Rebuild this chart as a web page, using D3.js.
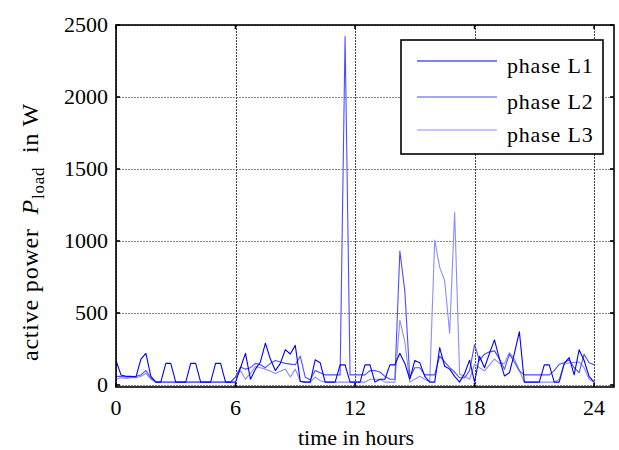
<!DOCTYPE html>
<html><head><meta charset="utf-8">
<script src="https://cdn.jsdelivr.net/npm/d3@7"></script>
<style>
body{margin:0;background:#fff}
svg text{font-family:"Liberation Serif","Times New Roman","DejaVu Serif",serif;fill:#000}
</style>
</head><body><svg id="c" width="619" height="450"></svg>
<script>
const hours = [0,0.25,0.5,0.75,1,1.25,1.5,1.75,2,2.25,2.5,2.75,3,3.25,3.5,3.75,4,4.25,4.5,4.75,5,5.25,5.5,5.75,
6,6.25,6.5,6.75,7,7.25,7.5,7.75,8,8.25,8.5,8.75,9,9.25,9.5,9.75,10,10.25,10.5,10.75,11,11.25,11.5,11.75,
12,12.25,12.5,12.75,13,13.25,13.5,13.75,14,14.25,14.5,14.75,15,15.25,15.5,15.75,16,16.25,16.5,16.75,17,17.25,17.5,17.75,
18,18.25,18.5,18.75,19,19.25,19.5,19.75,20,20.25,20.5,20.75,21,21.25,21.5,21.75,22,22.25,22.5,22.75,23,23.25,23.5,23.75,24];

const phaseL1 = [170,70,60,60, 55,180,220,60, 20,20,150,150, 20,20,20,150, 150,20,20,20, 150,150,20,20,
20,120,220,40, 110,160,290,180, 100,150,245,215, 275,25,20,20, 175,155,20,20, 20,140,140,20,
20,20,140,140, 20,40,40,140, 140,220,150,40, 170,155,60,20, 20,260,130,110, 60,20,80,172,
20,200,120,220, 313,180,63,85, 220,370,20,20, 20,20,140,140, 20,20,150,190, 70,245,170,60, 20];

const phaseL2 = [60,60,55,55, 60,70,100,50, 20,20,20,20, 20,20,20,20, 20,20,20,20, 20,20,20,20,
55,125,110,120, 150,140,120,150, 170,160,150,145, 140,200,55,35, 100,85,70,70, 70,70,2420,70,
70,70,70,100, 100,90,60,40, 40,930,650,50, 120,120,70,70, 70,200,160,120, 90,50,50,100,
280,170,214,230, 237,180,110,214, 160,98,70,70, 70,70,70,70, 100,144,155,175, 120,86,214,155, 140];

const phaseL3 = [40,50,45,50, 50,60,80,40, 20,20,20,20, 20,20,20,20, 20,20,20,20, 20,20,20,20,
55,100,40,80, 130,120,110,95, 80,95,110,55, 110,25,20,20, 55,30,20,20, 20,20,20,20,
20,20,20,40, 40,40,20,20, 20,450,300,20, 40,60,40,25, 1007,817,724,360, 1200,75,60,40,
144,120,98,140, 180,150,150,225, 180,100,20,20, 20,20,20,20, 20,40,144,155, 155,160,120,40, 20];

const seriesNames = ["phase L1","phase L2","phase L3"];
const xTicks = [0,6,12,18,24];
const yTicks = [0,500,1000,1500,2000,2500];

const colors = ["#0000ff","#4d4dff","#8c8cff"];
const series = [phaseL1, phaseL2, phaseL3];

const L=116, R=614, T=25, B=387;
const svg = d3.select("#c");
const x = d3.scaleLinear().domain([0,25]).range([L,R]);
const y = d3.scaleLinear().domain([-14,2500]).range([B,T]);

// grid
svg.append("g").selectAll("line").data(yTicks).join("line")
  .attr("x1",L).attr("x2",R).attr("y1",d=>Math.round(y(d))+0.5).attr("y2",d=>Math.round(y(d))+0.5)
  .attr("stroke","#8a8a8a").attr("stroke-width",1).attr("stroke-dasharray","2,1");
svg.append("g").selectAll("line").data(xTicks).join("line")
  .attr("x1",d=>Math.round(x(d))+0.5).attr("x2",d=>Math.round(x(d))+0.5).attr("y1",T).attr("y2",B)
  .attr("stroke","#444").attr("stroke-width",1).attr("stroke-dasharray","2,1");

// clip
svg.append("clipPath").attr("id","clip").append("rect").attr("x",L).attr("y",T).attr("width",R-L).attr("height",B-T);

const line = d3.line().x((d,i)=>x(hours[i])).y(d=>y(d));
const order = [2,1,0];
const gl = svg.append("g").attr("clip-path","url(#clip)");
order.forEach(k=>{
  gl.append("path").datum(series[k]).attr("d",line)
    .attr("fill","none").attr("stroke",colors[k]).attr("stroke-width",1.1).attr("stroke-linejoin","round");
});

// axes box
svg.append("rect").attr("x",L).attr("y",T).attr("width",R-L).attr("height",B-T)
  .attr("fill","none").attr("stroke","#000").attr("stroke-width",1.6);

// ticks (inside, mirrored)
const tl=4;
const tg = svg.append("g").attr("stroke","#000").attr("stroke-width",1.6);
xTicks.forEach(t=>{
  const xx = x(t);
  tg.append("line").attr("x1",xx).attr("x2",xx).attr("y1",B).attr("y2",B-tl);
  tg.append("line").attr("x1",xx).attr("x2",xx).attr("y1",T).attr("y2",T+tl);
});
yTicks.forEach(t=>{
  const yy = y(t);
  tg.append("line").attr("x1",L).attr("x2",L+tl).attr("y1",yy).attr("y2",yy);
  tg.append("line").attr("x1",R).attr("x2",R-tl).attr("y1",yy).attr("y2",yy);
});

// tick labels
svg.append("g").selectAll("text").data(xTicks).join("text")
  .attr("x",d=>x(d)).attr("y",415).attr("text-anchor","middle").attr("font-size",22).text(d=>d);
svg.append("g").selectAll("text").data(yTicks).join("text")
  .attr("x",108).attr("y",d=>y(d)+7).attr("text-anchor","end").attr("font-size",22).text(d=>d);

// x label
svg.append("text").attr("x",356).attr("y",445).attr("text-anchor","middle").attr("font-size",22).text("time in hours");

// y label
const yl = svg.append("text").attr("transform","translate(38,232) rotate(-90)")
  .attr("text-anchor","middle").attr("font-size",24).attr("letter-spacing",0.8);
yl.append("tspan").text("active power\u00a0\u00a0");
yl.append("tspan").attr("font-style","italic").text("P");
yl.append("tspan").attr("font-size",17).attr("dy",6).text("load");
yl.append("tspan").attr("dy",-6).text("\u00a0\u00a0in W");

// legend
const lg = svg.append("g");
lg.append("rect").attr("x",401).attr("y",40).attr("width",202).attr("height",114)
  .attr("fill","#fff").attr("stroke","#000").attr("stroke-width",1.6);
const ly = [61,97,130];
seriesNames.forEach((n,i)=>{
  lg.append("line").attr("x1",417).attr("x2",497).attr("y1",ly[i]).attr("y2",ly[i])
    .attr("stroke",colors[i]).attr("stroke-width",1.1);
  lg.append("text").attr("x",507).attr("y",ly[i]+12).attr("font-size",22).attr("letter-spacing",0.8).text(n);
});
</script>
</body></html>
